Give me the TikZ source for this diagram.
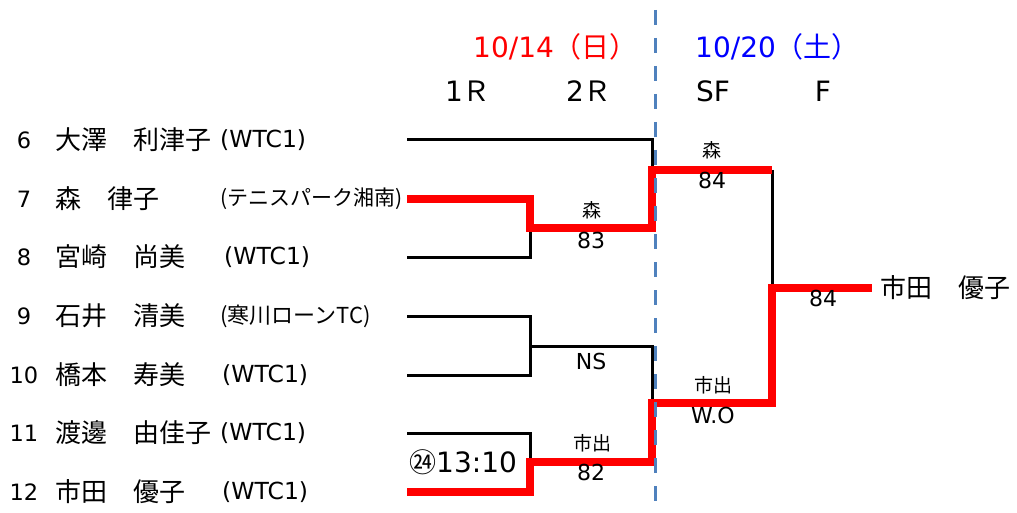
\documentclass[tikz,border=0pt]{standalone}
\usepackage{fontspec}
\setmainfont{DejaVu Sans}
\newfontfamily\jp{Noto Sans CJK JP}
\definecolor{dashblue}{RGB}{79,129,189}
\begin{document}
\begin{tikzpicture}[x=1pt,y=-1pt,
  num/.style={font=\fontsize{22.5}{22.5}\selectfont, inner sep=0pt},
  nm/.style={font=\jp\fontsize{26}{26}\selectfont, anchor=west, inner sep=0pt},
  aff/.style={font=\fontsize{23.5}{23.5}\selectfont, anchor=west, inner sep=0pt},
  affjp/.style={font=\jp\fontsize{21}{21}\selectfont, anchor=west, inner sep=0pt},
  hdr/.style={font=\fontsize{28}{28}\selectfont, inner sep=0pt},
  lab/.style={font=\jp\fontsize{19}{19}\selectfont, inner sep=0pt},
  score/.style={font=\fontsize{22}{22}\selectfont, inner sep=0pt},
  bk/.style={line width=3pt, black, line join=miter},
  rd/.style={line width=8pt, red, line join=miter},
  dsh/.style={line width=3pt, dashblue, dash pattern=on 15pt off 13pt}]
\useasboundingbox (0,0) rectangle (1017,513);
\fill[white] (0,0) rectangle (1017,513);

% headers
\node[hdr, text=red, anchor=west] (d1) at (473,47) {10/14{\jp （日）}};
\node[hdr, text=blue, anchor=west] (d2) at (695,47) {10/20{\jp （土）}};
\node[hdr] (h1) at (468,91) {1{\jp Ｒ}};
\node[hdr] (h2) at (589,91) {2{\jp Ｒ}};
\node[hdr] (h3) at (713,91) {SF};
\node[hdr] (h4) at (823,91) {F};

% players
\node[num] (n6) at (24,140) {6};
\node[nm] (p6) at (55,140) {大澤　利津子};
\node[aff] (a6) at (220,140) {(WTC1)};
\node[num] (n7) at (24,199) {7};
\node[nm] (p7) at (55,199) {森　律子};
\node[affjp] (a7) at (220,199) {(テニスパーク湘南)};
\node[num] (n8) at (24,257) {8};
\node[nm] (p8) at (55,257) {宮崎　尚美};
\node[aff] (a8) at (224,257) {(WTC1)};
\node[num] (n9) at (24,316) {9};
\node[nm] (p9) at (55,316) {石井　清美};
\node[affjp, font=\jp\fontsize{22}{22}\selectfont] (a9) at (220,316) {(寒川ローンTC)};
\node[num] (n10) at (24,375) {10};
\node[nm] (p10) at (55,375) {橋本　寿美};
\node[aff] (a10) at (222,375) {(WTC1)};
\node[num] (n11) at (24,433) {11};
\node[nm] (p11) at (55,433) {渡邊　由佳子};
\node[aff] (a11) at (220,433) {(WTC1)};
\node[num] (n12) at (24,492) {12};
\node[nm] (p12) at (55,492) {市田　優子};
\node[aff] (a12) at (222,492) {(WTC1)};

% bracket coordinates
\coordinate (s6) at (407,140);
\coordinate (s7) at (407,199);
\coordinate (s8) at (407,257);
\coordinate (s9) at (407,316);
\coordinate (s10) at (407,375);
\coordinate (s11) at (407,433);
\coordinate (s12) at (407,492);
\coordinate (r2a) at (530,228);
\coordinate (r2b) at (530,346);
\coordinate (r2c) at (530,462);
\coordinate (sfA) at (652,170);
\coordinate (sfB) at (652,403);
\coordinate (sfAe) at (772,170);
\coordinate (fin) at (772,288);
\node[nm] (win) at (880,288) {市田　優子};

% black lines
\draw[bk] (s6) -| (sfA);
\draw[bk] (s8) -| (r2a);
\draw[bk] (s9) -| (r2b);
\draw[bk] (s10) -| (r2b);
\draw[bk] (r2b) -| (sfB);
\draw[bk] (s11) -| (r2c);
\draw[bk] (sfAe) -- (fin);

% red winner paths
\draw[rd] (s7) -| (r2a) -| (sfA) -- (sfAe);
\draw[rd] (s12) -| (r2c) -| (sfB) -| (fin) -- (win.west -| 872,288);

% labels
\node[lab] (l1) at (592,210) {森};
\node[score] (c1) at (591,240) {83};
\node[lab] (l2) at (712,150) {森};
\node[score] (c2) at (712,180) {84};
\node[score] (l3) at (591,361) {NS};
\node[lab] (l4) at (592,443) {市出};
\node[score] (c4) at (591,472) {82};
\node[lab] (l5) at (713,385) {市出};
\node[score] (c5) at (713,415) {W.O};
\node[score] (c6) at (823,298) {84};
\node[hdr, anchor=west] (tm) at (409,462) {{\jp\fontsize{27}{27}\selectfont ㉔}13:10};

% dashed divider
\coordinate (dtop) at (655,10);
\coordinate (dbot) at (655,513);
\draw[dsh] (dtop) -- (dbot);
\end{tikzpicture}
\end{document}
